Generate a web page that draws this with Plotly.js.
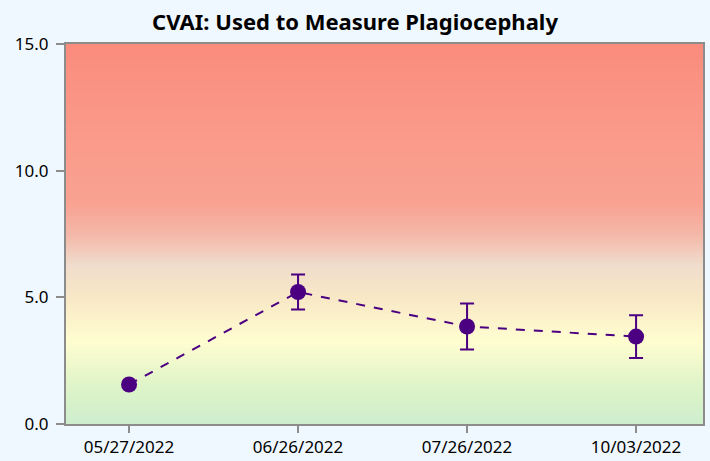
<!DOCTYPE html>
<html>
<head>
<meta charset="utf-8">
<script src="https://cdn.plot.ly/plotly-3.0.1.min.js"></script>
<style>html,body{margin:0;padding:0;background:#f0f8ff;}#chart{width:710px;height:461px;}</style>
</head>
<body>
<div id="chart"></div>
<script>
// ---- data ----
var dates = ["05/27/2022", "06/26/2022", "07/26/2022", "10/03/2022"];
var cvai = [1.56, 5.21, 3.85, 3.45];
var cvaiErr = [0, 0.69, 0.91, 0.84];

// background band: value (CVAI) -> colour
var bandValues = [0, 1.5, 3.3, 5.0, 6.3, 7.5, 8.7, 12, 15];
var bandColors = ["#cdeecd", "#def4c8", "#fffdd0", "#f8e8c6", "#f0dccc", "#f4b8a8", "#f9a292", "#fa9888", "#fa8c7c"];

var yMax = 15;
var xIdx = dates.map(function (d, i) { return i; });

// heatmap rows for the background gradient
var rowsY = [];
for (var v = 0; v <= yMax + 0.001; v += 0.1) rowsY.push(Math.round(v * 10) / 10);
var zRows = rowsY.map(function (y) { return [y, y]; });
var colorscale = bandValues.map(function (b, i) { return [b / yMax, bandColors[i]]; });

var bg = {
  type: "heatmap",
  x: [-1, dates.length],
  y: rowsY,
  z: zRows,
  zmin: 0, zmax: yMax,
  colorscale: colorscale,
  zsmooth: "best",
  showscale: false,
  hoverinfo: "skip"
};

var series = {
  type: "scatter",
  mode: "lines+markers",
  x: xIdx,
  y: cvai,
  line: { color: "#4b0082", width: 2, dash: "dash" },
  marker: { color: "#4b0082", size: 16 },
  error_y: { type: "data", array: cvaiErr, visible: true, color: "#4b0082", thickness: 2, width: 7 },
  showlegend: false
};

var layout = {
  width: 710, height: 461,
  paper_bgcolor: "#f0f8ff",
  plot_bgcolor: "#f0f8ff",
  margin: { l: 66, r: 7, t: 44, b: 37 },
  font: { family: "Noto Sans, Open Sans, sans-serif", color: "#000", size: 17 },
  title: {
    text: "<b>CVAI: Used to Measure Plagiocephaly</b>",
    x: 0.5, xanchor: "center", y: 0.952, yanchor: "middle",
    font: { size: 22, family: "Noto Sans, Open Sans, sans-serif", color: "#000" }
  },
  xaxis: {
    range: [-0.373, 3.396],
    tickmode: "array", tickvals: xIdx, ticktext: dates,
    showgrid: false, zeroline: false,
    showline: true, linecolor: "#8c8c8c", linewidth: 2, mirror: true,
    ticks: "outside", ticklen: 7, tickcolor: "#8c8c8c", tickwidth: 2,
    tickfont: { size: 17 }
  },
  yaxis: {
    range: [0, yMax],
    tickmode: "array", tickvals: [0, 5, 10, 15],
    tickformat: ".1f",
    showgrid: false, zeroline: false,
    showline: true, linecolor: "#8c8c8c", linewidth: 2, mirror: true,
    ticks: "outside", ticklen: 8, tickcolor: "#8c8c8c", tickwidth: 2,
    ticklabelstandoff: 4,
    tickfont: { size: 17 }
  },
  showlegend: false
};

Plotly.newPlot("chart", [bg, series], layout, { displayModeBar: false, staticPlot: true });
</script>
</body>
</html>
